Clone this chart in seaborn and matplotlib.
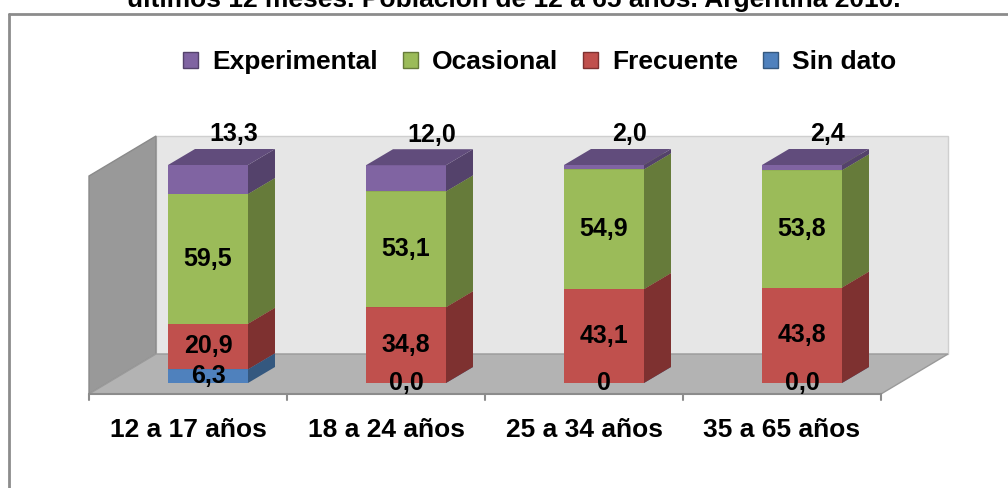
import pandas as pd
import matplotlib.pyplot as plt
import seaborn as sns
from matplotlib.patches import Patch
from matplotlib.lines import Line2D

# data (percent per age group)
categorias = ["12 a 17 años", "18 a 24 años", "25 a 34 años", "35 a 65 años"]
sin_dato = [6.3, 0.0, 0.0, 0.0]
frecuente = [20.9, 34.8, 43.1, 43.8]
ocasional = [59.5, 53.1, 54.9, 53.8]
experimental = [13.3, 12.0, 2.0, 2.4]
sin_dato_labels = ["6,3", "0,0", "0", "0,0"]

series = ["Sin dato", "Frecuente", "Ocasional", "Experimental"]
front = {"Sin dato": "#4F81BD", "Frecuente": "#C0504D", "Ocasional": "#9BBB59", "Experimental": "#8064A2"}
side = {"Sin dato": "#34587F", "Frecuente": "#7E3130", "Ocasional": "#667B3A", "Experimental": "#54426B"}
top = {"Sin dato": "#3F6797", "Frecuente": "#9A403D", "Ocasional": "#7C9647", "Experimental": "#614C7C"}

df = pd.DataFrame({"cat": categorias, "Sin dato": sin_dato, "Frecuente": frecuente,
                   "Ocasional": ocasional, "Experimental": experimental})

sns.set_style("white")
plt.rcParams["font.family"] = ["Liberation Sans", "DejaVu Sans"]
plt.rcParams["font.weight"] = "bold"
plt.rcParams["text.color"] = "black"

W, H = 1008, 488
fig = plt.figure(figsize=(W / 100, H / 100), dpi=100)
ax = fig.add_axes([0, 0, 1, 1])

# pixel mapping of the bar front plane
x0_px, x_step = 208, 198
y0_px, y_step = 383, 2.18

bw = 80 / x_step            # bar width
bdx, bdy = 27 / x_step, 16 / y_step   # bar depth
fdx, fdy = -20 / x_step, -11 / y_step  # floor front relative to bar front
wdx, wdy = 67 / x_step, 40 / y_step    # full depth of floor
wall_h = 100
n = len(categorias)

# walls and floor
fl, fr = -0.5 + fdx, n - 0.5 + fdx
ax.fill([fl + wdx, fr + wdx, fr + wdx, fl + wdx], [fdy + wdy, fdy + wdy, fdy + wdy + wall_h, fdy + wdy + wall_h],
        color="#E6E6E6", ec="#CFCFCF", lw=1, zorder=0)
ax.fill([fl, fl + wdx, fl + wdx, fl], [fdy, fdy + wdy, fdy + wdy + wall_h, fdy + wall_h],
        color="#999999", ec="#8A8A8A", lw=1, zorder=0)
ax.fill([fl, fr, fr + wdx, fl + wdx], [fdy, fdy, fdy + wdy, fdy + wdy],
        color="#B3B3B3", ec="#9A9A9A", lw=1, zorder=0.5)
ax.plot([fl, fr], [fdy, fdy], color="#8C8C8C", lw=1.5, zorder=1)
for k in range(n + 1):
    ax.plot([fl + k, fl + k], [fdy, fdy - 6 / y_step], color="#8C8C8C", lw=1.5, zorder=1)

# stacked bars (front faces via seaborn), sides and tops as depth faces
bottom = [0.0] * n
for j, s in enumerate(series):
    vals = df[s].tolist()
    sns.barplot(data=df, x="cat", y=s, order=categorias, color=front[s], saturation=1,
                width=bw, bottom=bottom, ax=ax, zorder=2 + j, linewidth=0)
    for i in range(n):
        b, t = bottom[i], bottom[i] + vals[i]
        xr, xl = i + bw / 2, i - bw / 2
        ax.fill([xr, xr + bdx, xr + bdx, xr], [b, b + bdy, t + bdy, t],
                color=side[s], lw=0, zorder=2 + j)
        ax.fill([xl, xr, xr + bdx, xl + bdx], [t, t, t + bdy, t + bdy],
                color=top[s], lw=0, zorder=2 + j)
        # labels
        if s == "Experimental":
            ax.text(i + 0.13, t + 14, f"{vals[i]:.1f}".replace(".", ","), ha="center", va="center",
                    fontsize=18, fontweight="bold", zorder=20)
        else:
            lab = sin_dato_labels[i] if s == "Sin dato" else f"{vals[i]:.1f}".replace(".", ",")
            ax.text(i, (b + t) / 2, lab, ha="center", va="center", fontsize=18,
                    fontweight="bold", zorder=20)
    bottom = [bottom[i] + vals[i] for i in range(n)]

ax.set_xlim(-x0_px / x_step, (W - x0_px) / x_step)
ax.set_ylim((y0_px - H) / y_step, y0_px / y_step)
ax.set_axis_off()

for i, c in enumerate(categorias):
    ax.text(i + fdx, (y0_px - 430) / y_step, c, ha="center", va="center", fontsize=19, fontweight="bold")

# legend
handles = [Patch(facecolor=front[s], edgecolor=side[s], label=s) for s in series[::-1]]
fig.legend(handles=handles, loc="center", bbox_to_anchor=(540 / W, 1 - 62 / H), ncol=4, frameon=False,
           prop={"size": 19, "weight": "bold"}, handlelength=0.55, handleheight=0.55,
           handletextpad=0.55, columnspacing=0.95)

# title (cut at the top) and outer frame
fig.text(514 / W, 1 - 7 / H, "últimos 12 meses. Población de 12 a 65 años. Argentina 2010.",
         ha="center", va="baseline", fontsize=19, fontweight="bold")
fig.add_artist(Line2D([9 / W, 1], [1 - 13.5 / H, 1 - 13.5 / H], color="#8C8C8C", lw=2))
fig.add_artist(Line2D([9 / W, 9 / W], [0, 1 - 13.5 / H], color="#8C8C8C", lw=2))

fig.savefig("out.png", dpi=100)
